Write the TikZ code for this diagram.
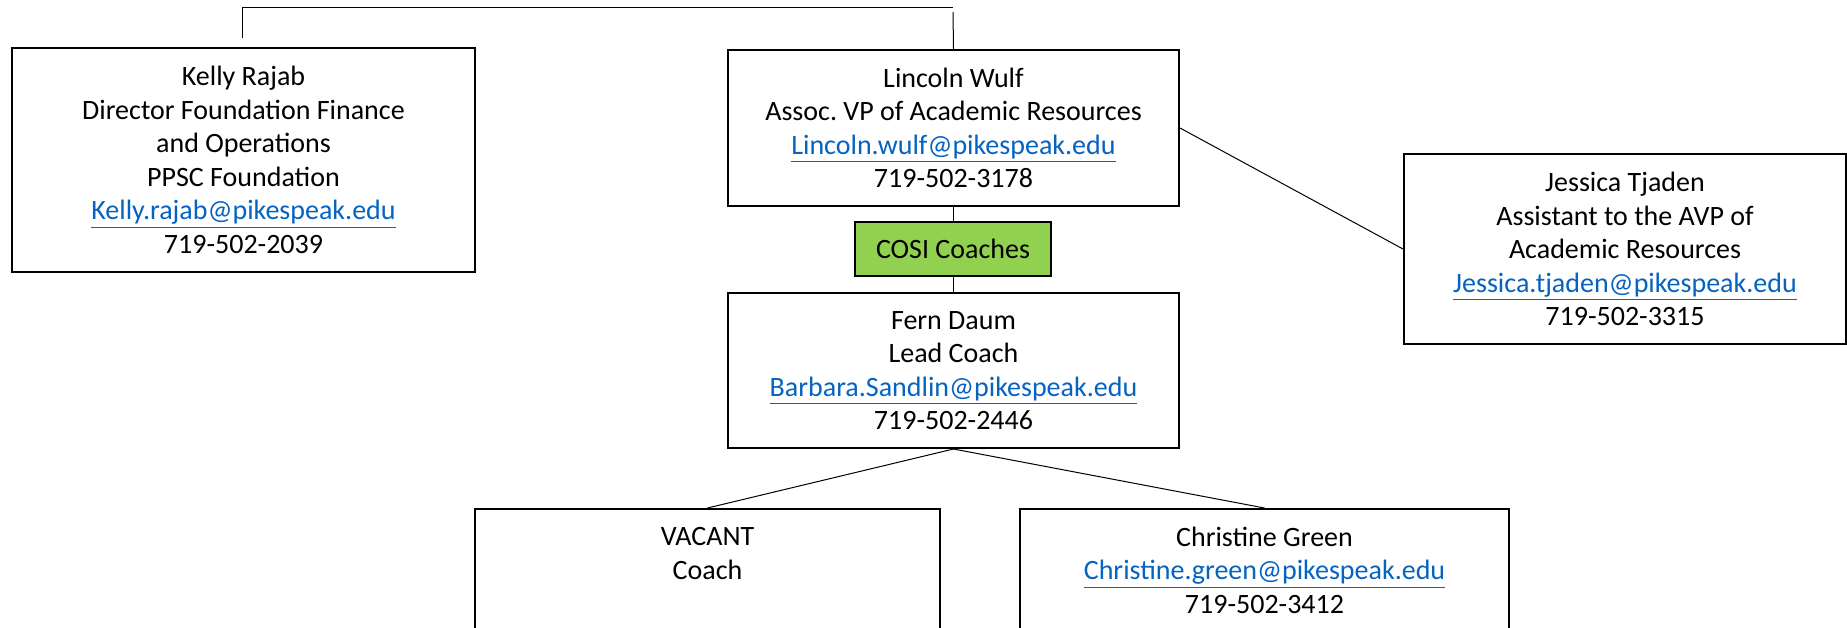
\documentclass[tikz,border=0pt]{standalone}
\usepackage{fontspec}
\setmainfont{Carlito}
\usepackage{tikz}
\definecolor{linkblue}{RGB}{5,99,193}
\definecolor{cosigreen}{RGB}{146,208,80}
\newcommand{\mailto}[1]{{\color{linkblue}\underline{#1}}}

\begin{document}
\begin{tikzpicture}[x=0.5pt, y=-0.5pt,
        person/.style={draw, line width=1pt, fill=white, align=center, inner sep=0pt,
            font=\fontsize{14}{16.75}\selectfont},
        team/.style={person, fill=cosigreen},
        link/.style={line width=0.5pt}]
        \useasboundingbox (0,0) rectangle (1847,627);

        \node[person, minimum width=231.5pt, minimum height=112pt] (kelly) at (243.5,160)
            {Kelly Rajab\\Director Foundation Finance\\and Operations\\PPSC Foundation\\\mailto{Kelly.rajab@pikespeak.edu}\\719-502-2039};
        \node[person, minimum width=225.5pt, minimum height=78pt] (lincoln) at (953.5,128)
            {Lincoln Wulf\\Assoc.\ VP of Academic Resources\\\mailto{Lincoln.wulf@pikespeak.edu}\\719-502-3178};
        \node[person, minimum width=221pt, minimum height=95pt] (jessica) at (1625,249)
            {Jessica Tjaden\\Assistant to the AVP of\\Academic Resources\\\mailto{Jessica.tjaden@pikespeak.edu}\\719-502-3315};
        \node[person, minimum width=225.5pt, minimum height=77.5pt] (fern) at (953.5,370.5)
            {Fern Daum\\Lead Coach\\\mailto{Barbara.Sandlin@pikespeak.edu}\\719-502-2446};
        \node[person, minimum width=232.5pt, minimum height=78pt] (vacant) at (707.5,587)
            {VACANT\\Coach\\~\\~};
        \node[person, minimum width=244.5pt, minimum height=78pt] (christine) at (1264.5,587)
            {Christine Green\\\mailto{Christine.green@pikespeak.edu}\\719-502-3412\\~};

        % loose ends of the line to the level above
        \coordinate (kellyup) at (242,38);
        \coordinate (topbar) at (953,7.5);
        \coordinate (lincolnup) at (953,12);

        \draw[link] (kellyup) |- (topbar);
        \draw[link] (lincoln.north) -- (lincolnup);
        \draw[link] (lincoln.east) -- (jessica.west);
        \draw[link] (lincoln.south) -- (fern.north);
        \draw[link] (fern.south) -- (vacant.north);
        \draw[link] (fern.south) -- (christine.north);

        \node[team, minimum width=98pt, minimum height=27pt] (cosi) at (953,249) {COSI Coaches};
    \end{tikzpicture}
\end{document}
